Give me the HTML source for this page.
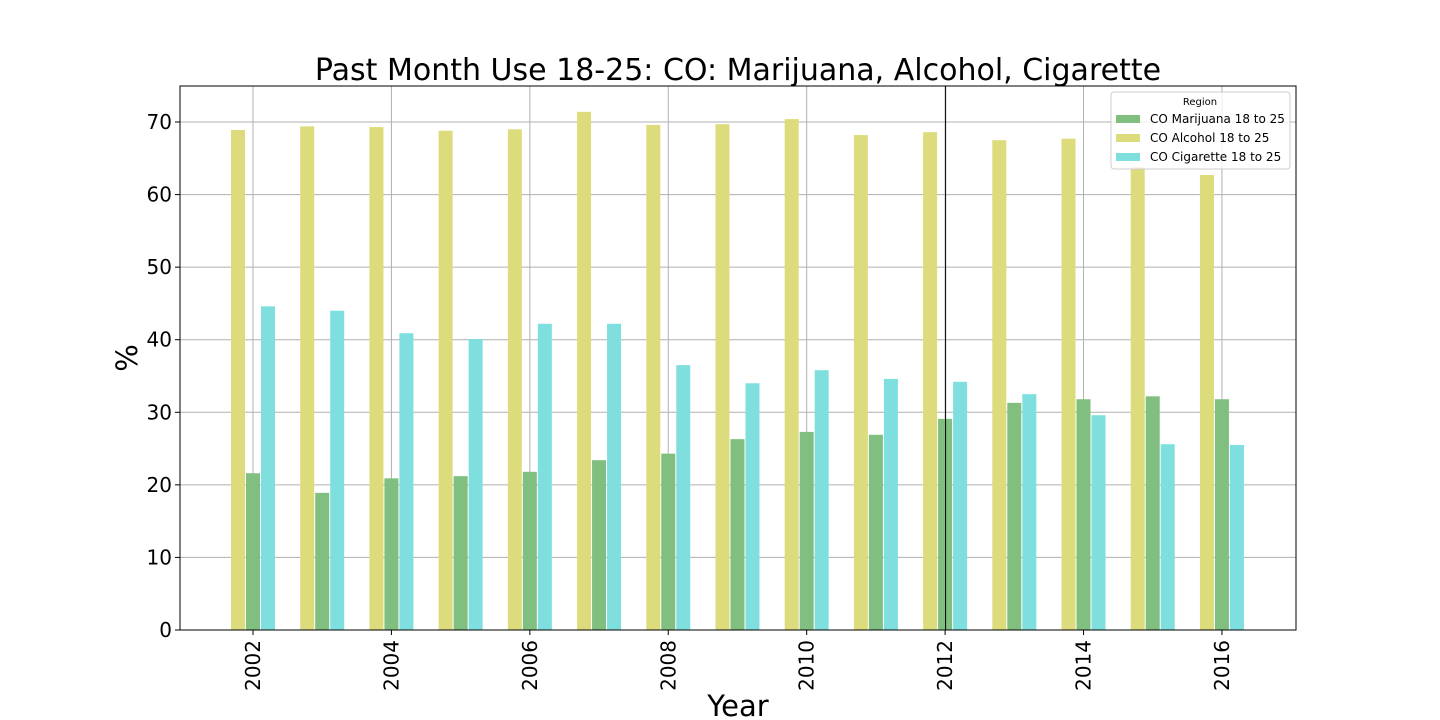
<!DOCTYPE html>
<html><head><meta charset="utf-8"><style>
body{margin:0;background:#fff;}
svg{display:block;font-family:"DejaVu Sans","Liberation Sans",sans-serif;}
</style></head><body>
<svg id="chart" width="1440" height="720">
<text x="738" y="80" font-size="30" text-anchor="middle">Past Month Use 18-25: CO: Marijuana, Alcohol, Cigarette</text>
<g id="grid"></g><g id="bars"></g><g id="axes"></g>
<text x="738" y="716" font-size="29" text-anchor="middle">Year</text>
<text transform="translate(137,358) rotate(-90)" font-size="29" text-anchor="middle">%</text>
<g id="legend">
<rect x="1111" y="92" width="179" height="77" rx="3" fill="#fff" fill-opacity="0.8" stroke="#ccc"/>
<text x="1200" y="105" font-size="10" text-anchor="middle">Region</text>
<rect x="1116" y="115" width="24" height="8" fill="#80bf80"/>
<text x="1150" y="123" font-size="12">CO Marijuana 18 to 25</text>
<rect x="1116" y="134" width="24" height="8" fill="#dcdc7c"/>
<text x="1150" y="142" font-size="12">CO Alcohol 18 to 25</text>
<rect x="1116" y="153" width="24" height="8" fill="#7fdfdf"/>
<text x="1150" y="161" font-size="12">CO Cigarette 18 to 25</text>
</g>
</svg>
<script>
const years=[2002,2003,2004,2005,2006,2007,2008,2009,2010,2011,2012,2013,2014,2015,2016];
const alcohol=[68.9,69.4,69.3,68.8,69.0,71.4,69.6,69.7,70.4,68.2,68.6,67.5,67.7,63.8,62.7];
const marijuana=[21.6,18.9,20.9,21.2,21.8,23.4,24.3,26.3,27.3,26.9,29.1,31.3,31.8,32.2,31.8];
const cigarette=[44.6,44.0,40.9,40.1,42.2,42.2,36.5,34.0,35.8,34.6,34.2,32.5,29.6,25.6,25.5];
const yTicks=[0,10,20,30,40,50,60,70];
const xTicks=[2002,2004,2006,2008,2010,2012,2014,2016];
const NS="http://www.w3.org/2000/svg";
const L=180,R=1296,T=86,B=630;
const x=y=>253+(y-2002)*69.21;
const yS=v=>630-v*7.257;
function mk(tag,attrs,parent){const e=document.createElementNS(NS,tag);for(const k in attrs)e.setAttribute(k,attrs[k]);document.getElementById(parent).appendChild(e);return e;}
yTicks.forEach(t=>{
 const g=mk('line',{x1:L,x2:R,y1:yS(t),y2:yS(t),stroke:'#b0b0b0','stroke-width':1},'grid');
 
 
 mk('line',{x1:L-5,x2:L,y1:yS(t),y2:yS(t),stroke:'#000'},'axes');
 const tx=mk('text',{x:L-8,y:yS(t)+7,'font-size':20,'text-anchor':'end'},'axes');
 tx.textContent=t;
 
 
});
xTicks.forEach(t=>{
 const g=mk('line',{x1:x(t),x2:x(t),y1:T,y2:B,stroke:'#b0b0b0','stroke-width':1},'grid');
 
 
 mk('line',{x1:x(t),x2:x(t),y1:B,y2:B+5,stroke:'#000'},'axes');
 const tx=mk('text',{transform:`translate(${x(t)+7},${B+10}) rotate(-90)`,'font-size':20,'text-anchor':'end'},'axes');
 tx.textContent=t;
 
 
});
const series=[[alcohol,-15,'#dcdc7c','alcohol'],[marijuana,0,'#80bf80','marijuana'],[cigarette,15,'#7fdfdf','cigarette']];
series.forEach(([vals,off,col,nm])=>{
 vals.forEach((v,i)=>{
  const r=mk('rect',{x:x(years[i])+off-7,y:yS(v),width:14,height:B-yS(v),fill:col},'bars');
  
  
 });
});
const vl=mk('line',{x1:x(2012)+0.5,x2:x(2012)+0.5,y1:T,y2:B,stroke:'#000','stroke-width':1},'bars');


const fr=mk('rect',{x:L,y:T,width:R-L,height:B-T,fill:'none',stroke:'#000'},'axes');


</script>
</body></html>
